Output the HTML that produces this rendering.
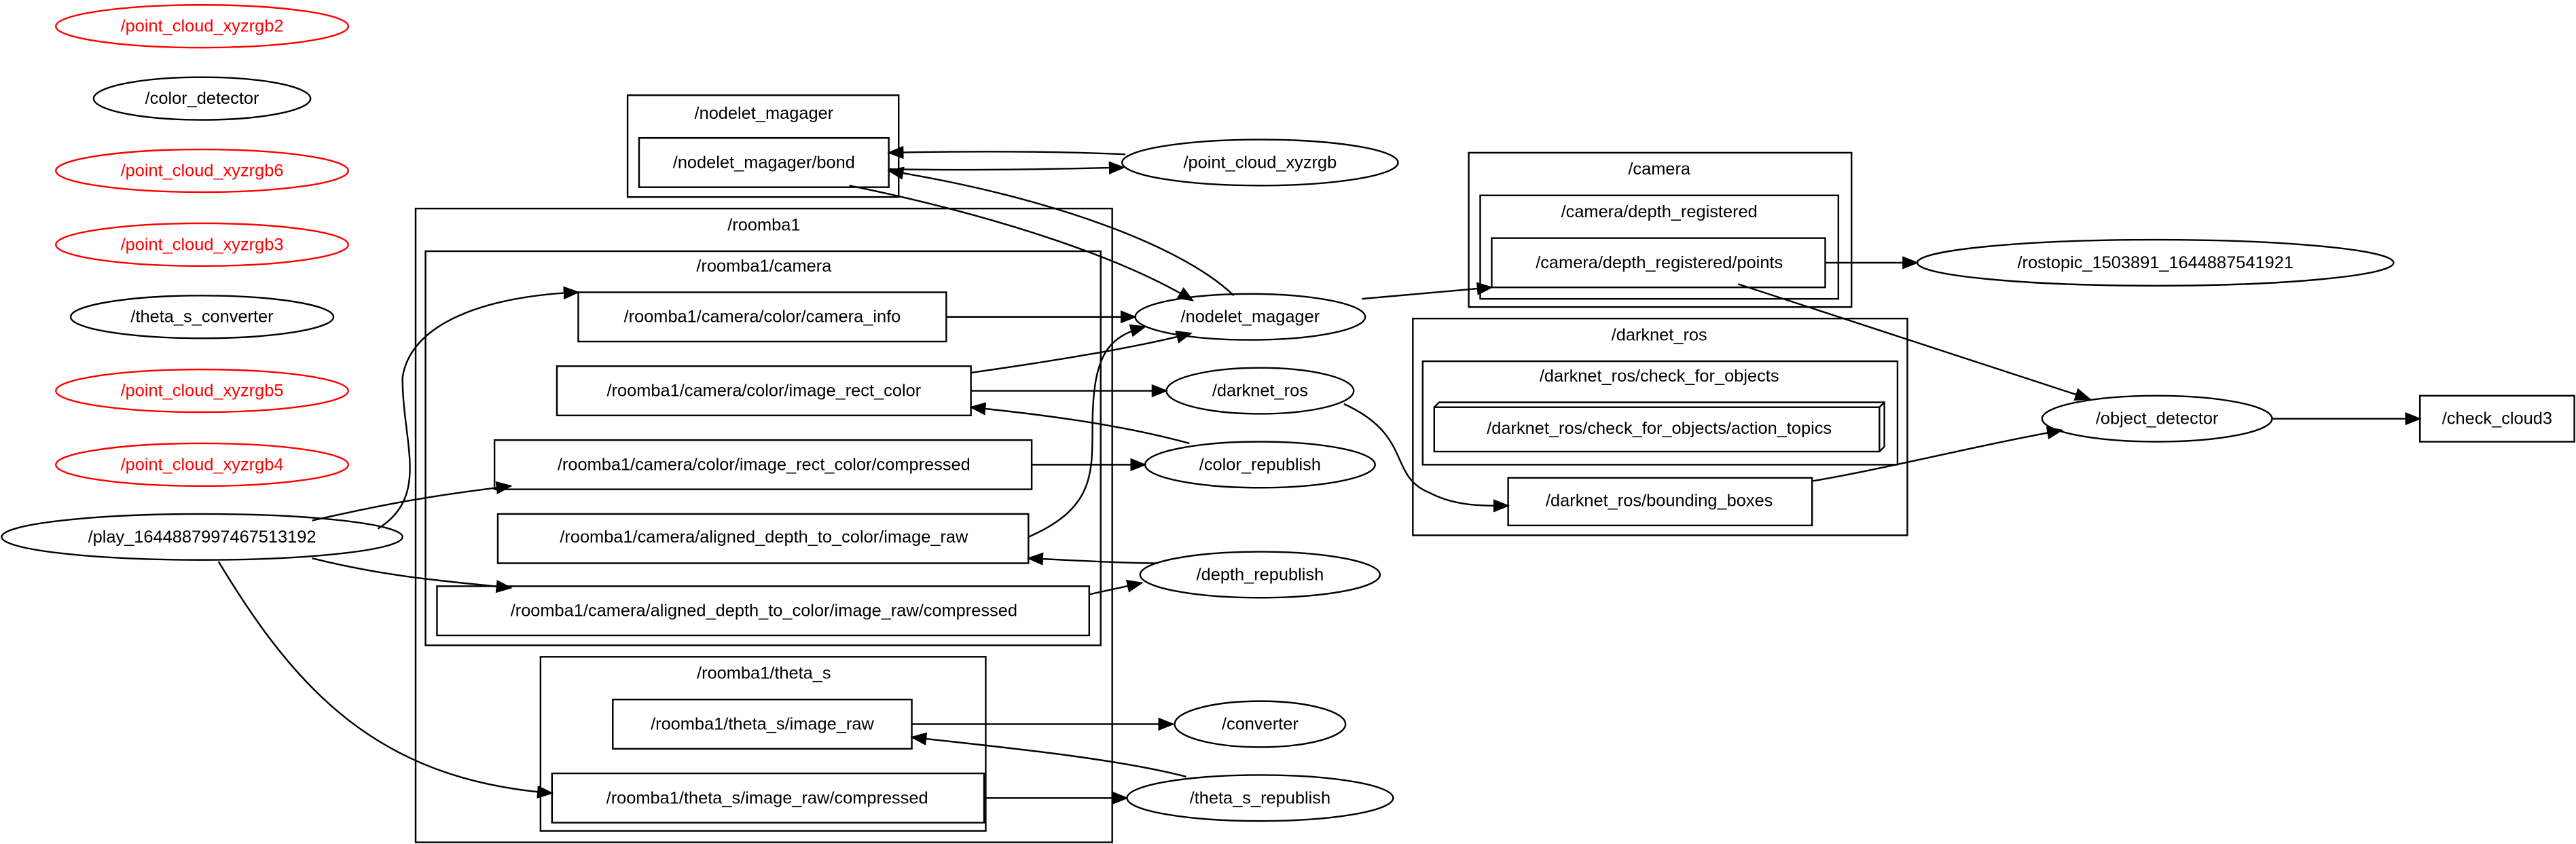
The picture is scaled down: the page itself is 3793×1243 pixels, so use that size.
<!DOCTYPE html>
<html><head><meta charset="utf-8"><style>
html,body{margin:0;padding:0;background:#fff;}
svg{display:block;}
text{font-family:"Liberation Sans",sans-serif;font-size:10.5px;text-anchor:middle;dominant-baseline:central;fill:#000;}
.r{fill:#ff0000;}
</style></head><body>
<svg width="3793" height="1243" viewBox="0 0 1568 514" preserveAspectRatio="none" xmlns="http://www.w3.org/2000/svg">
<defs><marker id="a" markerUnits="userSpaceOnUse" markerWidth="10" markerHeight="8" refX="9" refY="4" orient="auto"><path d="M0,0 L10,4 L0,8 Z" fill="#000"/></marker></defs>
<g fill="none" stroke="#000" stroke-width="1">
<ellipse cx="123" cy="16" rx="89" ry="13" stroke="#f00"/>
<ellipse cx="123" cy="60" rx="66" ry="13"/>
<ellipse cx="123" cy="104" rx="89" ry="13" stroke="#f00"/>
<ellipse cx="123" cy="149" rx="89" ry="13" stroke="#f00"/>
<ellipse cx="123" cy="193" rx="80" ry="13"/>
<ellipse cx="123" cy="238" rx="89" ry="13" stroke="#f00"/>
<ellipse cx="123" cy="283" rx="89" ry="13" stroke="#f00"/>
<ellipse cx="123" cy="327" rx="122" ry="14"/>
<rect x="382" y="58" width="165" height="62"/>
<rect x="389" y="84" width="152" height="30"/>
<rect x="253" y="127" width="424" height="386"/>
<rect x="259" y="153" width="411" height="240"/>
<rect x="352" y="178" width="224" height="30"/>
<rect x="339" y="223" width="252" height="30"/>
<rect x="301" y="268" width="327" height="30"/>
<rect x="303" y="313" width="323" height="30"/>
<rect x="266" y="357" width="397" height="30"/>
<rect x="329" y="400" width="271" height="106"/>
<rect x="373" y="426" width="182" height="30"/>
<rect x="336" y="471" width="263" height="30"/>
<ellipse cx="767" cy="99" rx="84" ry="14"/>
<ellipse cx="761" cy="193" rx="70" ry="14"/>
<ellipse cx="767" cy="238" rx="57" ry="14"/>
<ellipse cx="767" cy="283" rx="70" ry="14"/>
<ellipse cx="767" cy="350" rx="73" ry="14"/>
<ellipse cx="767" cy="441" rx="52" ry="14"/>
<ellipse cx="767" cy="486" rx="81" ry="14"/>
<rect x="894" y="93" width="233" height="94"/>
<rect x="901" y="119" width="218" height="63"/>
<rect x="908" y="145" width="203" height="30"/>
<ellipse cx="1312" cy="160" rx="145" ry="14"/>
<rect x="860" y="194" width="301" height="132"/>
<rect x="866" y="220" width="289" height="63"/>
<rect x="873" y="248" width="271" height="27"/>
<path d="M873,248 L876,245 L1147,245 L1147,272 L1144,275 M1144,248 L1147,245"/>
<rect x="918" y="291" width="185" height="29"/>
<ellipse cx="1313" cy="255" rx="70" ry="14"/>
<rect x="1473" y="241" width="94" height="28"/>
</g>
<g fill="none" stroke="#000" stroke-width="1" marker-end="url(#a)">
<path d="M685,94 C640,92 590,92 541,93"/>
<path d="M541,103 C590,104 640,103 684,102"/>
<path d="M517,113 C600,130 680,155 726,183"/>
<path d="M751,180 C720,150 640,120 541,104"/>
<path d="M576,193 L691,193"/>
<path d="M591,227 C640,220 690,212 725,203"/>
<path d="M591,238 L710,238"/>
<path d="M724,270 C680,258 630,252 591,248"/>
<path d="M628,283 L697,283"/>
<path d="M626,327 C665,310 665,290 665,260 C665,215 675,205 697,199"/>
<path d="M705,343 C680,343 650,341 626,340"/>
<path d="M663,362 L695,355"/>
<path d="M190,317 C230,308 260,302 311,296"/>
<path d="M230,322 C262,302 245,270 245,230 C250,195 300,180 352,178"/>
<path d="M190,340 C230,350 260,353 311,358"/>
<path d="M133,342 C180,420 230,475 336,483"/>
<path d="M555,441 L714,441"/>
<path d="M722,473 C680,462 610,455 555,449"/>
<path d="M599,486 L686,486"/>
<path d="M818,246 C860,265 845,290 870,300 C885,308 900,308 918,308"/>
<path d="M829,182 L908,175"/>
<path d="M1111,160 L1167,160"/>
<path d="M1058,173 L1272,243"/>
<path d="M1103,293 C1150,285 1200,272 1255,262"/>
<path d="M1383,255 L1473,255"/>
</g>
<text x="123" y="16" class="r">/point_cloud_xyzrgb2</text>
<text x="123" y="60">/color_detector</text>
<text x="123" y="104" class="r">/point_cloud_xyzrgb6</text>
<text x="123" y="149" class="r">/point_cloud_xyzrgb3</text>
<text x="123" y="193">/theta_s_converter</text>
<text x="123" y="238" class="r">/point_cloud_xyzrgb5</text>
<text x="123" y="283" class="r">/point_cloud_xyzrgb4</text>
<text x="123" y="327">/play_1644887997467513192</text>
<text x="465" y="69">/nodelet_magager</text>
<text x="465" y="99">/nodelet_magager/bond</text>
<text x="465" y="137">/roomba1</text>
<text x="465" y="162">/roomba1/camera</text>
<text x="464" y="193">/roomba1/camera/color/camera_info</text>
<text x="465" y="238">/roomba1/camera/color/image_rect_color</text>
<text x="465" y="283">/roomba1/camera/color/image_rect_color/compressed</text>
<text x="465" y="327">/roomba1/camera/aligned_depth_to_color/image_raw</text>
<text x="465" y="372">/roomba1/camera/aligned_depth_to_color/image_raw/compressed</text>
<text x="465" y="410">/roomba1/theta_s</text>
<text x="464" y="441">/roomba1/theta_s/image_raw</text>
<text x="467" y="486">/roomba1/theta_s/image_raw/compressed</text>
<text x="767" y="99">/point_cloud_xyzrgb</text>
<text x="761" y="193">/nodelet_magager</text>
<text x="767" y="238">/darknet_ros</text>
<text x="767" y="283">/color_republish</text>
<text x="767" y="350">/depth_republish</text>
<text x="767" y="441">/converter</text>
<text x="767" y="486">/theta_s_republish</text>
<text x="1010" y="103">/camera</text>
<text x="1010" y="129">/camera/depth_registered</text>
<text x="1010" y="160">/camera/depth_registered/points</text>
<text x="1312" y="160">/rostopic_1503891_1644887541921</text>
<text x="1010" y="204">/darknet_ros</text>
<text x="1010" y="229">/darknet_ros/check_for_objects</text>
<text x="1010" y="261">/darknet_ros/check_for_objects/action_topics</text>
<text x="1010" y="305">/darknet_ros/bounding_boxes</text>
<text x="1313" y="255">/object_detector</text>
<text x="1520" y="255">/check_cloud3</text>
</svg>
</body></html>
